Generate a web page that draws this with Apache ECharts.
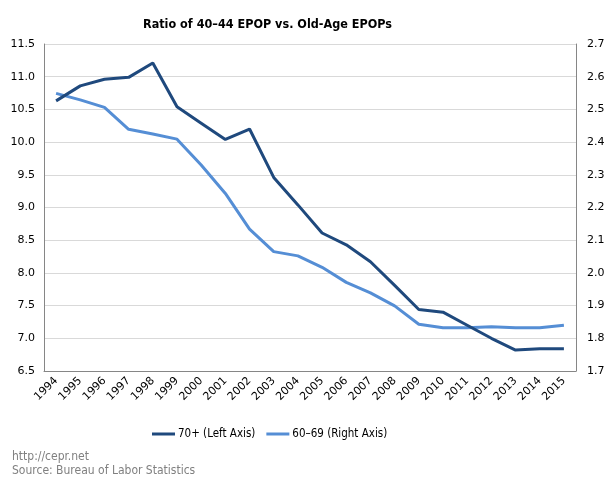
<!DOCTYPE html>
<html>
<head>
<meta charset="utf-8">
<script src="https://cdn.jsdelivr.net/npm/echarts@6/dist/echarts.min.js"></script>
<style>html,body{margin:0;padding:0;background:#fff}#c{width:615px;height:486px}</style>
</head>
<body>
<div id="c"></div>
<script>
var years = ['1994','1995','1996','1997','1998','1999','2000','2001','2002','2003','2004','2005','2006','2007','2008','2009','2010','2011','2012','2013','2014','2015'];
var over70 = [10.63,10.86,10.96,10.99,11.21,10.54,10.29,10.04,10.20,9.46,9.04,8.61,8.43,8.17,7.81,7.44,7.40,7.20,7.00,6.82,6.84,6.84];
var age6069 = [2.549,2.529,2.506,2.439,2.425,2.409,2.33,2.243,2.134,2.065,2.052,2.017,1.971,1.939,1.899,1.843,1.832,1.832,1.835,1.832,1.832,1.840];
var leftTicks = {min:6.5, max:11.5, interval:0.5};
var rightTicks = {min:1.7, max:2.7, interval:0.1};

var F = 'DejaVu Sans, Verdana, sans-serif';
var FC = '"DejaVu Sans Condensed", "DejaVu Sans", sans-serif';
var chart = echarts.init(document.getElementById('c'), null, {renderer:'canvas'});
chart.setOption({
  animation:false,
  backgroundColor:'#fff',
  title:{
    text:'Ratio of 40\u201344 EPOP vs. Old-Age EPOPs',
    left:138, top:13,
    textStyle:{fontFamily:FC, fontSize:12.5, fontWeight:'bold', color:'#000'}
  },
  legend:{
    left:152, top:428, padding:0,
    icon:'rect', itemWidth:23, itemHeight:3, itemGap:11,
    textStyle:{fontFamily:FC, fontSize:11.5, color:'#000', padding:[0,0,0,-2]},
    data:['70+ (Left Axis)','60\u201369 (Right Axis)']
  },
  graphic:[
    {type:'text', left:12, top:451, style:{text:'http://cepr.net', fontFamily:FC, fontSize:12, fill:'#808080'}},
    {type:'text', left:12, top:465, style:{text:'Source: Bureau of Labor Statistics', fontFamily:FC, fontSize:12, fill:'#808080'}}
  ],
  grid:{left:44, right:39, top:44, bottom:115, containLabel:false},
  xAxis:{
    type:'category', data:years, boundaryGap:true,
    axisLine:{lineStyle:{color:'#868686', width:1}},
    axisTick:{show:false},
    axisLabel:{rotate:45, interval:0, fontFamily:F, fontSize:11, color:'#000', margin:8},
    splitLine:{show:false}
  },
  yAxis:[
    {type:'value', min:leftTicks.min, max:leftTicks.max, interval:leftTicks.interval, position:'left',
     axisLine:{show:true, lineStyle:{color:'#868686'}}, axisTick:{show:false},
     axisLabel:{fontFamily:F, fontSize:11, color:'#000', margin:9, formatter:function(v){return v.toFixed(1);}},
     splitLine:{show:true, lineStyle:{color:'#d9d9d9'}}},
    {type:'value', min:rightTicks.min, max:rightTicks.max, interval:rightTicks.interval, position:'right',
     axisLine:{show:true, lineStyle:{color:'#868686'}}, axisTick:{show:false},
     axisLabel:{fontFamily:F, fontSize:11, color:'#000', margin:11, formatter:function(v){return v.toFixed(1);}},
     splitLine:{show:false}}
  ],
  series:[
    {name:'70+ (Left Axis)', type:'line', yAxisIndex:0, data:over70, showSymbol:false, symbol:'none',
     lineStyle:{color:'#1f497d', width:3}, itemStyle:{color:'#1f497d'}, z:3},
    {name:'60\u201369 (Right Axis)', type:'line', yAxisIndex:1, data:age6069, showSymbol:false, symbol:'none',
     lineStyle:{color:'#558ed5', width:3}, itemStyle:{color:'#558ed5'}, z:2}
  ]
});
</script>
</body>
</html>
